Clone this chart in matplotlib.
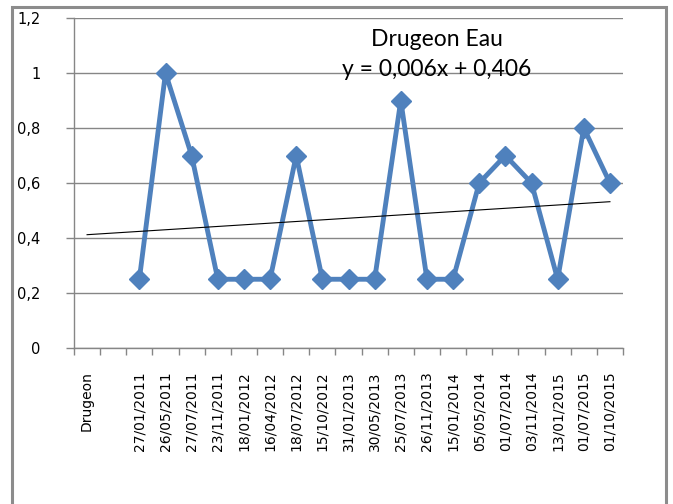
import matplotlib
matplotlib.use("Agg")
import matplotlib.pyplot as plt
from matplotlib.patches import Rectangle
import numpy as np

categories = ["Drugeon", "", "27/01/2011", "26/05/2011", "27/07/2011", "23/11/2011",
              "18/01/2012", "16/04/2012", "18/07/2012", "15/10/2012", "31/01/2013",
              "30/05/2013", "25/07/2013", "26/11/2013", "15/01/2014", "05/05/2014",
              "01/07/2014", "03/11/2014", "13/01/2015", "01/07/2015", "01/10/2015"]
values = [None, None, 0.25, 1.0, 0.7, 0.25, 0.25, 0.25, 0.7, 0.25, 0.25, 0.25, 0.9,
          0.25, 0.25, 0.6, 0.7, 0.6, 0.25, 0.8, 0.6]
trend_slope = 0.006
trend_intercept = 0.406
yticks = [0, 0.2, 0.4, 0.6, 0.8, 1.0, 1.2]
ytick_labels = ["0", "0,2", "0,4", "0,6", "0,8", "1", "1,2"]
title = "Drugeon Eau"
equation = "y = 0,006x + 0,406"

fig = plt.figure(figsize=(6.73, 5.04), dpi=100)
ax = fig.add_axes([74/673, 1-348/504, (623-74)/673, (348-18)/504])

n = len(categories)
x = np.arange(1, n + 1)
xs = [xi for xi, v in zip(x, values) if v is not None]
ys = [v for v in values if v is not None]

blue = "#4F81BD"
ax.plot(xs, ys, color=blue, lw=3.5, marker="D", markersize=10.5, zorder=3,
        markeredgecolor=blue, markerfacecolor=blue)
tx = np.array([1, n])
ax.plot(tx, trend_slope * tx + trend_intercept, color="black", lw=0.8, zorder=4)

ax.set_xlim(0.5, n + 0.5)
ax.set_ylim(0, 1.2)
ax.set_yticks(yticks)
ax.set_yticklabels(ytick_labels, fontsize=10.5, family="DejaVu Sans")
ax.set_xticks(x)
ax.set_xticklabels(categories, rotation=90, fontsize=10, family="DejaVu Sans",
                   va="top", ha="center")
ax.set_xticks(np.arange(0.5, n + 1.5, 1), minor=True)
ax.tick_params(axis="x", which="major", length=0, pad=17)
ax.tick_params(axis="x", which="minor", length=5, color="#868686", width=1)
ax.tick_params(axis="y", length=6, color="#868686", width=1, pad=18)
ax.grid(axis="y", color="#868686", lw=1)
ax.set_axisbelow(True)
for s in ["top", "right"]:
    ax.spines[s].set_visible(False)
for s in ["left", "bottom"]:
    ax.spines[s].set_color("#868686")
    ax.spines[s].set_linewidth(1)

fig.text(437/673, 1-40/504, title, ha="center", va="center", fontsize=16.5, family="Lato")
fig.text(437/673, 1-70/504, equation, ha="center", va="center", fontsize=16.5, family="Lato")

fig.patches.append(Rectangle((12/673, -0.05), (666-12)/673, 1.05 - 7/504,
                             transform=fig.transFigure, fill=False,
                             edgecolor="#8c8c8c", lw=2.2))

fig.savefig("out.png", dpi=100)
